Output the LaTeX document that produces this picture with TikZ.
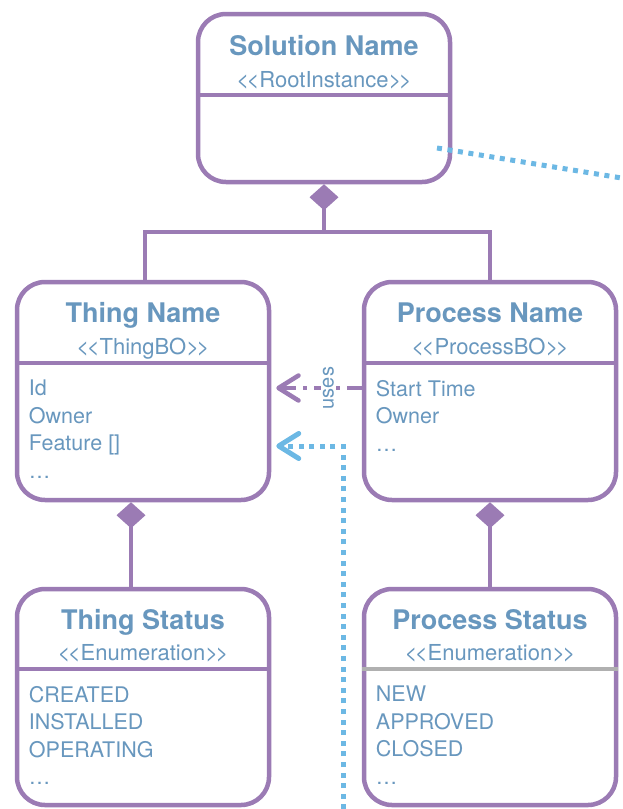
\documentclass[tikz,border=0pt]{standalone}
\usepackage{fontspec}
\setmainfont{TeX Gyre Heros}
\usepackage{xcolor}
\usetikzlibrary{arrows.meta}

\definecolor{umlpurple}{RGB}{155,123,180}
\definecolor{umltext}{RGB}{104,151,190}
\definecolor{umllink}{RGB}{108,184,228}
\definecolor{umlgray}{RGB}{176,176,176}

\newcommand{\stereo}[1]{<\kern-2.5pt<#1>\kern-2.5pt>}

\begin{document}
\begin{tikzpicture}[x=1pt,y=-1pt,
  classbox/.style={draw=umlpurple,line width=4.5pt,rounded corners=28pt,minimum width=252pt,fill=white},
  classname/.style={text=umltext,font=\fontsize{27}{30}\selectfont\bfseries,anchor=base},
  stereotype/.style={text=umltext,font=\fontsize{22}{24}\selectfont,anchor=base},
  members/.style={text=umltext,font=\fontsize{21.5}{27.5}\selectfont,align=left,anchor=north west,inner sep=0pt},
  umlline/.style={draw=umlpurple,line width=4.5pt},
  compose/.style={umlline,-{Diamond[length=26pt,width=29pt]}},
  link/.style={draw=umllink,line width=5pt,dash pattern=on 5pt off 5.6pt},
  >={Straight Barb[length=20pt,width=25pt,round]}]

\useasboundingbox (0,0) rectangle (623,809);

% the five classes
\node[classbox,minimum height=168pt] (solution) at (324,98) {};
\node[classbox,minimum height=218pt] (thing) at (143,391) {};
\node[classbox,minimum height=218pt] (process) at (490,391) {};
\node[classbox,minimum height=216pt] (thingstat) at (143,697) {};
\node[classbox,minimum height=216pt] (procstat) at (490,697) {};

\node[classname] (solname) at ([yshift=-43.5pt]solution.north) {Solution Name};
\node[stereotype] (solstereo) at ([yshift=-75.5pt]solution.north) {\stereo{RootInstance}};
\draw[umlline] ([yshift=-83pt]solution.north west) -- ([yshift=-83pt]solution.north east);

\node[classname] (thingname) at ([yshift=-43pt]thing.north) {Thing Name};
\node[stereotype] (thingstereo) at ([yshift=-75pt]thing.north) {\stereo{ThingBO}};
\draw[umlline] ([yshift=-83pt]thing.north west) -- ([yshift=-83pt]thing.north east);
\node[members] (thingattr) at ([xshift=14pt,yshift=-100pt]thing.north west) {Id\\Owner\\Feature []\\\ldots};

\node[classname] (procname) at ([yshift=-43pt]process.north) {Process Name};
\node[stereotype] (procstereo) at ([yshift=-75pt]process.north) {\stereo{ProcessBO}};
\draw[umlline] ([yshift=-83pt]process.north west) -- ([yshift=-83pt]process.north east);
\node[members] (procattr) at ([xshift=14pt,yshift=-100pt]process.north west) {Start Time\\Owner\\\ldots};

\node[classname] (tsname) at ([yshift=-42.5pt]thingstat.north) {Thing Status};
\node[stereotype] (tsstereo) at ([yshift=-74pt]thingstat.north) {\stereo{Enumeration}};
\draw[umlline] ([yshift=-82pt]thingstat.north west) -- ([yshift=-82pt]thingstat.north east);
\node[members] (tsvalues) at ([xshift=14pt,yshift=-99pt]thingstat.north west) {CREATED\\INSTALLED\\OPERATING\\\ldots};

\node[classname] (psname) at ([yshift=-42.5pt]procstat.north) {Process Status};
\node[stereotype] (psstereo) at ([yshift=-74pt]procstat.north) {\stereo{Enumeration}};
\draw[umlline,draw=umlgray] ([yshift=-82pt]procstat.north west) -- ([yshift=-82pt]procstat.north east);
\node[members] (psvalues) at ([xshift=14pt,yshift=-99pt]procstat.north west) {NEW\\APPROVED\\CLOSED\\\ldots};

% composition
\coordinate (junction) at (324,232);
\draw[compose] (junction) -- (solution.south);
\draw[umlline] ([xshift=2pt]thing.north) |- (junction) -| (process.north);
\draw[compose] ([xshift=-12pt]thingstat.north) -- ([xshift=-12pt]thing.south);
\draw[compose] (procstat.north) -- (process.south);

% uses
\draw[umlline,->,dash pattern=on 15pt off 7pt on 4pt off 7pt] ([yshift=3pt]process.west) --
  node[pos=0.39,rotate=90,fill=white,inner sep=2pt,text=umltext,font=\fontsize{20}{24}\selectfont] (uses) {uses}
  ([xshift=5pt,yshift=3pt]thing.east);

% links to the rest of the model
\coordinate (linkin) at (343,820);
\draw[link,->] (linkin) |- ([xshift=5pt,yshift=-55pt]thing.east);
\coordinate (linkstart) at (437,148);
\coordinate (linkout) at (640,181);
\draw[link] (linkstart) -- (linkout);
\end{tikzpicture}
\end{document}
